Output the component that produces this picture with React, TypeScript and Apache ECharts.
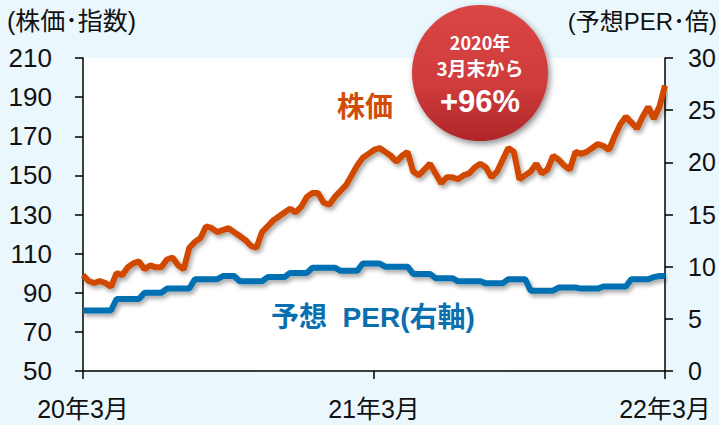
import React, { useEffect, useRef } from "react";
import * as echarts from "echarts";

// x: weeks from end of March 2020 (0) to end of March 2022 (104)
const xTickLabels: Record<number, string> = { 0: "20年3月", 52: "21年3月", 104: "22年3月" };

const stockPrice = [
  99, 96, 95, 96, 95, 93, 100, 99, 103, 105, 106, 102, 104, 103, 103, 107, 108, 104, 102, 113,
  116, 118, 124, 123, 121, 122, 123, 121, 119, 117, 114, 113, 121, 124, 127, 129, 131, 133, 131, 134,
  139, 141, 141, 136, 135, 139, 142, 145, 150, 155, 159, 161, 163, 164, 162, 160, 157, 160, 162, 152,
  150, 153, 156, 151, 146, 149, 149, 148, 150, 151, 154, 156, 154, 149, 152, 158, 164, 162, 148, 150,
  152, 156, 151, 153, 160, 158, 155, 153, 162, 161, 162, 164, 166, 165, 163, 170, 176, 180, 177, 174,
  180, 185, 179, 185, 196,
];

const forwardPER = [
  5.8, 5.8, 5.8, 5.8, 5.8, 5.8, 6.9, 6.9, 6.9, 6.9, 6.9, 7.5, 7.5, 7.5, 7.5, 7.9, 7.9, 7.9, 7.9, 7.9,
  8.8, 8.8, 8.8, 8.8, 8.8, 9.1, 9.1, 9.1, 8.6, 8.6, 8.6, 8.6, 8.6, 9.0, 9.0, 9.0, 9.0, 9.4, 9.4, 9.4,
  9.4, 9.9, 9.9, 9.9, 9.9, 9.9, 9.6, 9.6, 9.6, 9.6, 10.3, 10.3, 10.3, 10.3, 10.0, 10.0, 10.0, 10.0, 10.0, 9.3,
  9.3, 9.3, 9.3, 8.9, 8.9, 8.9, 8.9, 8.6, 8.6, 8.6, 8.6, 8.6, 8.4, 8.4, 8.4, 8.4, 8.8, 8.8, 8.8, 8.8,
  7.7, 7.7, 7.7, 7.7, 7.7, 8.0, 8.0, 8.0, 8.0, 7.9, 7.9, 7.9, 7.9, 8.1, 8.1, 8.1, 8.1, 8.1, 8.8, 8.8,
  8.8, 8.8, 9.0, 9.1, 9.1,
];

const leftTitle = "(株価･指数)";
const rightTitle = "(予想PER･倍)";
const stockLabel = "株価";
const perLabel = "予想  PER(右軸)";
const badgeLines = ["2020年", "3月末から", "+96%"];

const FONT = "Arial, 'Liberation Sans', 'Noto Sans CJK JP', sans-serif";
const CJK = "'Noto Sans CJK JP', Arial, sans-serif";

export default function App() {
  const ref = useRef<HTMLDivElement>(null);
  useEffect(() => {
    document.body.style.margin = "0";
    if (!ref.current) return;
    const chart = echarts.init(ref.current, null, { renderer: "svg" });
    const shadow = {
      shadowColor: "rgba(0,0,0,0.35)",
      shadowBlur: 4,
      shadowOffsetX: 2,
      shadowOffsetY: 3,
    };
    chart.setOption({
      animation: false,
      backgroundColor: "#EAF7FD",
      grid: {
        left: 83,
        right: 54,
        top: 58,
        bottom: 54,
        show: true,
        backgroundColor: "#ffffff",
        borderWidth: 0,
      },
      xAxis: {
        type: "value",
        min: 0,
        max: 104,
        interval: 52,
        axisLine: { show: true, lineStyle: { color: "#000", width: 1.5 } },
        axisTick: { show: true, length: 8, lineStyle: { color: "#000", width: 1.5 } },
        splitLine: { show: false },
        axisLabel: {
          formatter: (v: number) => xTickLabels[v] ?? "",
          color: "#111",
          fontSize: 25,
          fontFamily: FONT,
          margin: 25,
          showMinLabel: true,
          showMaxLabel: true,
        },
      },
      yAxis: [
        {
          type: "value",
          min: 50,
          max: 210,
          interval: 20,
          position: "left",
          axisLine: { show: true, lineStyle: { color: "#000", width: 1.5 } },
          axisTick: { show: true, length: 8, lineStyle: { color: "#000", width: 1.5 } },
          splitLine: { show: false },
          axisLabel: { color: "#111", fontSize: 26, fontFamily: FONT, margin: 31 },
        },
        {
          type: "value",
          min: 0,
          max: 30,
          interval: 5,
          position: "right",
          axisLine: { show: true, lineStyle: { color: "#000", width: 1.5 } },
          axisTick: { show: true, length: 8, lineStyle: { color: "#000", width: 1.5 } },
          splitLine: { show: false },
          axisLabel: { color: "#111", fontSize: 25, fontFamily: FONT, margin: 23 },
        },
      ],
      series: [
        {
          name: "予想PER",
          type: "line",
          yAxisIndex: 1,
          showSymbol: false,
          symbol: "none",
          data: forwardPER.map((v, i) => [i, v]),
          lineStyle: { color: "#0070B2", width: 6, ...shadow },
          z: 3,
        },
        {
          name: "株価",
          type: "line",
          yAxisIndex: 0,
          showSymbol: false,
          symbol: "none",
          data: stockPrice.map((v, i) => [i, v]),
          lineStyle: { color: "#D14A04", width: 6, ...shadow },
          z: 4,
        },
      ],
      graphic: [
        {
          type: "text",
          left: 7,
          top: 8,
          style: { text: leftTitle, fontSize: 25, fontFamily: FONT, fill: "#111" },
        },
        {
          type: "text",
          right: 2,
          top: 9,
          style: { text: rightTitle, fontSize: 24, fontFamily: FONT, fill: "#111" },
        },
        {
          type: "text",
          left: 337,
          top: 91,
          style: { text: stockLabel, fontSize: 28, fontWeight: "bold", fontFamily: CJK, fill: "#D24B08" },
        },
        {
          type: "text",
          left: 271,
          top: 303,
          style: { text: perLabel, fontSize: 28, fontWeight: "bold", fontFamily: FONT, fill: "#0A6FAF" },
        },
        {
          type: "circle",
          shape: { cx: 480, cy: 73, r: 68 },
          style: {
            fill: new echarts.graphic.LinearGradient(0, 0, 0, 1, [
              { offset: 0, color: "#DA4645" },
              { offset: 0.6, color: "#CF3B3B" },
              { offset: 1, color: "#AE2628" },
            ]),
            shadowColor: "rgba(0,0,0,0.45)",
            shadowBlur: 6,
            shadowOffsetX: 2,
            shadowOffsetY: 3,
          },
          z: 10,
        },
        {
          type: "text",
          x: 480,
          y: 42,
          style: {
            text: badgeLines[0],
            fontSize: 18,
            fontWeight: "bold",
            fontFamily: CJK,
            fill: "#fff",
            align: "center",
            verticalAlign: "middle",
          },
          z: 11,
        },
        {
          type: "text",
          x: 480,
          y: 67,
          style: {
            text: badgeLines[1],
            fontSize: 19,
            fontWeight: "bold",
            fontFamily: CJK,
            fill: "#fff",
            align: "center",
            verticalAlign: "middle",
          },
          z: 11,
        },
        {
          type: "text",
          x: 480,
          y: 101,
          style: {
            text: badgeLines[2],
            fontSize: 31,
            fontWeight: "bold",
            fontFamily: FONT,
            fill: "#fff",
            align: "center",
            verticalAlign: "middle",
          },
          z: 11,
        },
      ],
    });
    return () => chart.dispose();
  }, []);
  return <div ref={ref} style={{ width: 719, height: 425 }} />;
}
